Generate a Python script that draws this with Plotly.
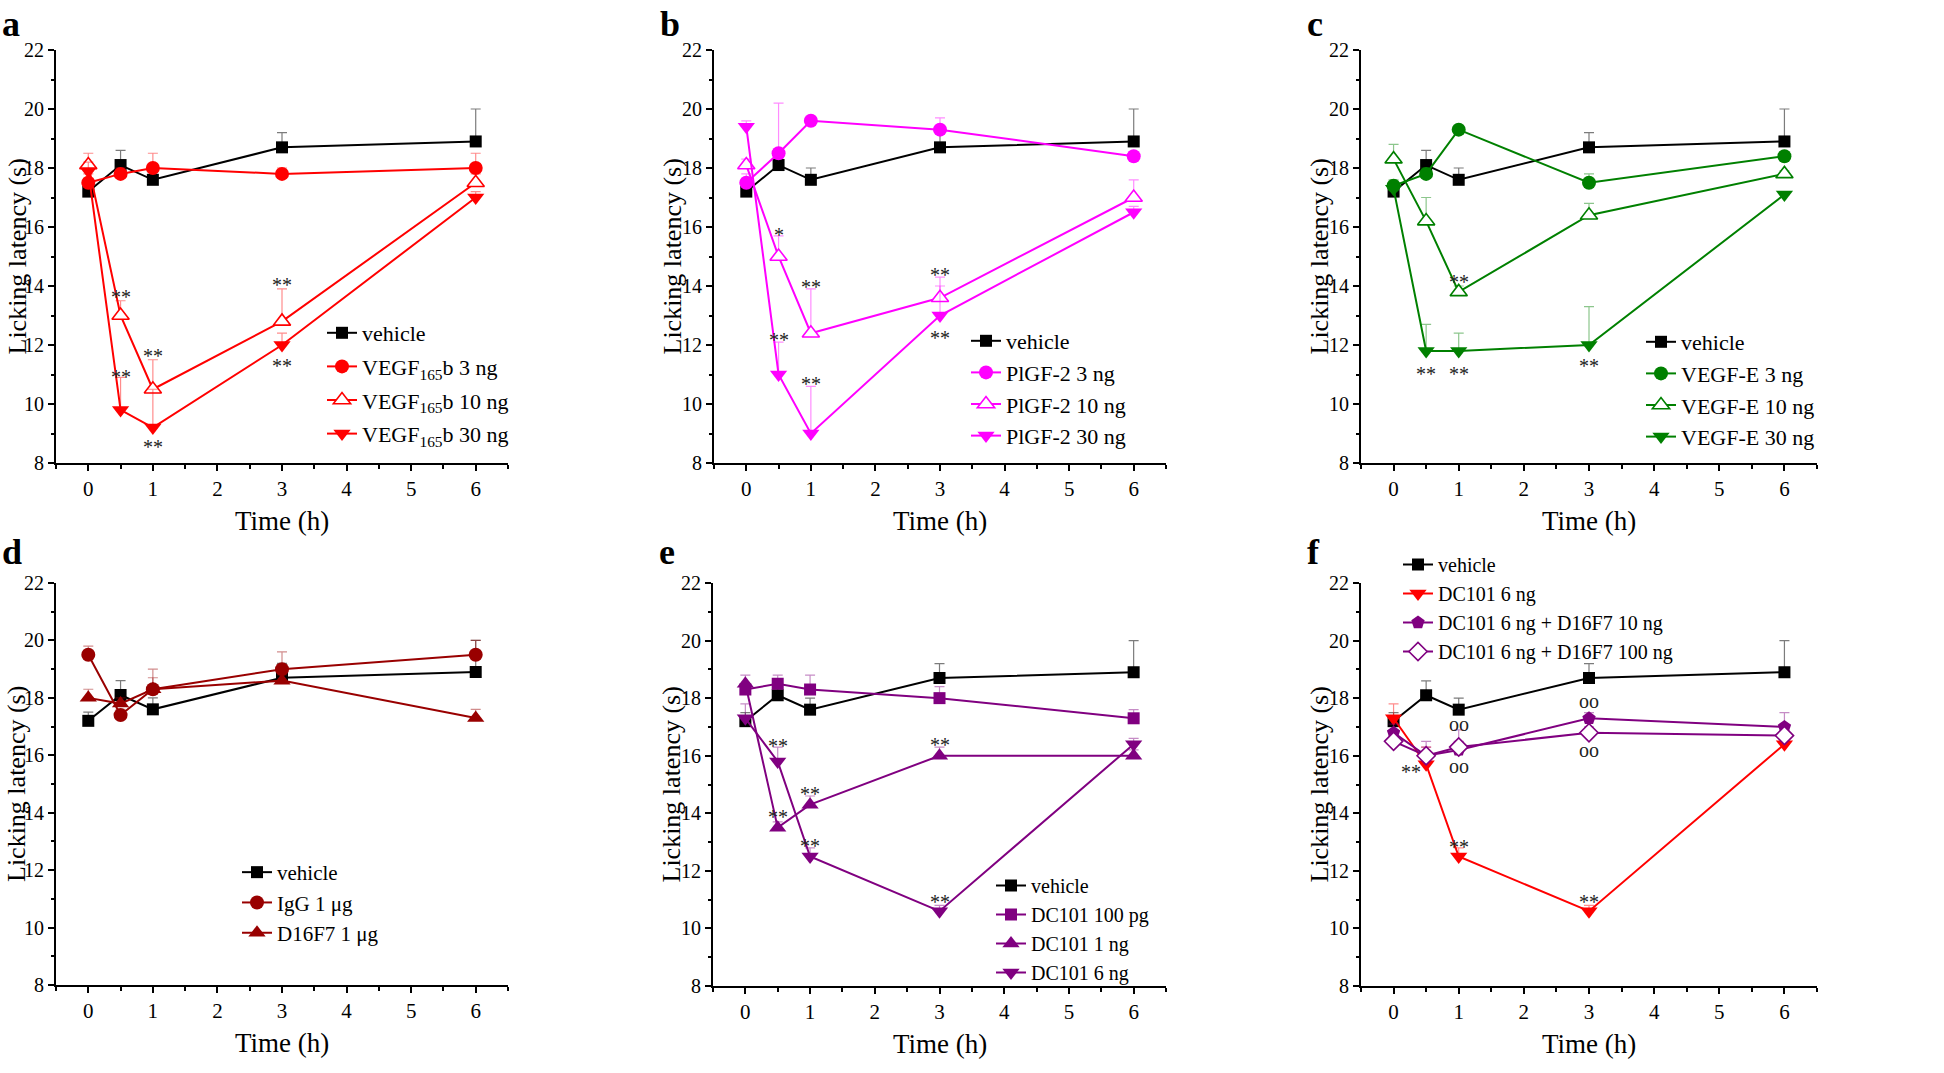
import plotly.graph_objects as go

# ---------------- data ----------------
time_h = [0, 0.5, 1, 3, 6]
x_tick_vals = [0, 1, 2, 3, 4, 5, 6]
y_tick_vals = [8, 10, 12, 14, 16, 18, 20, 22]
x_title = "Time (h)"
y_title = "Licking latency (s)"

vehicle = [17.2, 18.1, 17.6, 18.7, 18.9]
vehicle_err = [0.3, 0.5, 0.4, 0.5, 1.1]

# panel a
vegf165b_3 = [17.5, 17.8, 18.0, 17.8, 18.0]
vegf165b_3_err = [0.3, 0.2, 0.5, 0.2, 0.5]
vegf165b_10 = [18.1, 13.0, 10.5, 12.8, 17.5]
vegf165b_10_err = [0.4, 0.5, 1.0, 1.1, 0.3]
vegf165b_30 = [17.9, 9.8, 9.2, 12.0, 17.0]
vegf165b_30_err = [0.3, 1.1, 1.3, 0.4, 0.2]

# panel b
plgf_3 = [17.5, 18.5, 19.6, 19.3, 18.4]
plgf_3_err = [0.3, 1.7, 0.1, 0.4, 0.1]
plgf_10 = [18.1, 15.0, 12.4, 13.6, 17.0]
plgf_10_err = [0.2, 0.7, 1.5, 0.7, 0.6]
plgf_30 = [19.4, 11.0, 9.0, 13.0, 16.5]
plgf_30_err = [0.2, 1.1, 1.6, 1.0, 0.2]

# panel c
vegfe_3 = [17.4, 17.8, 19.3, 17.5, 18.4]
vegfe_3_err = [0.2, 0.2, 0.1, 0.3, 0.1]
vegfe_10 = [18.3, 16.2, 13.8, 16.4, 17.8]
vegfe_10_err = [0.5, 0.8, 0.2, 0.4, 0.1]
vegfe_30 = [17.3, 11.8, 11.8, 12.0, 17.1]
vegfe_30_err = [0.2, 0.9, 0.6, 1.3, 0.1]

# panel d
igg_1 = [19.5, 17.4, 18.3, 19.0, 19.5]
igg_1_err = [0.3, 0.2, 0.7, 0.6, 0.5]
d16f7_1 = [18.0, 17.8, 18.3, 18.6, 17.3]
d16f7_1_err = [0.3, 0.2, 0.4, 0.2, 0.3]

# panel e
dc101_100pg = [18.3, 18.5, 18.3, 18.0, 17.3]
dc101_100pg_err = [0.2, 0.3, 0.5, 0.4, 0.3]
dc101_1ng = [18.5, 13.5, 14.3, 16.0, 16.0]
dc101_1ng_err = [0.3, 0.2, 0.3, 0.3, 0.2]
dc101_6ng = [17.3, 15.8, 12.5, 10.6, 16.4]
dc101_6ng_err = [0.5, 0.5, 0.3, 0.2, 0.2]

# panel f
f_dc101_6ng = [17.3, 15.7, 12.5, 10.6, 16.4]
f_dc101_6ng_err = [0.5, 0.6, 0.3, 0.2, 0.2]
combo_10 = [16.8, 16.0, 16.2, 17.3, 17.0]
combo_10_err = [0.3, 0.3, 0.3, 0.2, 0.5]
combo_100 = [16.5, 16.0, 16.3, 16.8, 16.7]
combo_100_err = [0.2, 0.5, 0.6, 0.2, 0.1]

# significance marks: (x, y, text)
marks_a = [(0.5, 13.8, "**"), (0.5, 11.1, "**"), (1, 11.8, "**"), (1, 8.7, "**"), (3, 14.2, "**"), (3, 11.45, "**")]
marks_b = [(0.5, 15.9, "*"), (1, 14.15, "**"), (0.5, 12.35, "**"), (1, 10.85, "**"), (3, 14.55, "**"), (3, 12.4, "**")]
marks_c = [(1, 14.3, "**"), (0.5, 11.2, "**"), (1, 11.2, "**"), (3, 11.45, "**")]
marks_d = []
marks_e = [(0.5, 16.5, "**"), (0.5, 14.05, "**"), (1, 14.85, "**"), (1, 13.05, "**"), (3, 16.55, "**"), (3, 11.1, "**")]
marks_f = [(0.27, 15.6, "**"), (1, 17.1, "oo"), (1, 15.65, "oo"), (1, 13.0, "**"), (3, 17.9, "oo"), (3, 16.2, "oo"), (3, 11.1, "**")]

# ---------------- styling ----------------
SERIF = "Liberation Serif, Times New Roman, serif"
W, H = 1944, 1073
BLACK = "#000000"
RED = "#FF0000"
MAG = "#FF00FF"
GREEN = "#008000"
DRED = "#990000"
PURP = "#800080"


def rgba(hex_c, a):
    h = hex_c.lstrip("#")
    return "rgba(%d,%d,%d,%.2f)" % (int(h[0:2], 16), int(h[2:4], 16), int(h[4:6], 16), a)


def s(name, vals, err, color, symbol, filled=True, size=13):
    return dict(name=name, vals=vals, err=err, color=color, symbol=symbol, filled=filled, size=size)


veh = lambda: s("vehicle", vehicle, vehicle_err, BLACK, "square", True, 12)

panels = [
    dict(letter="a", box=(56, 508, 50, 463), ytx=17, legend=(322, 312), lfont=22, gap=2, marks=marks_a, series=[
        veh(),
        s("VEGF<sub>165</sub>b 3 ng", vegf165b_3, vegf165b_3_err, RED, "circle", True, 14),
        s("VEGF<sub>165</sub>b 10 ng", vegf165b_10, vegf165b_10_err, RED, "triangle-up", False, 15),
        s("VEGF<sub>165</sub>b 30 ng", vegf165b_30, vegf165b_30_err, RED, "triangle-down", True, 15),
    ]),
    dict(letter="b", box=(714, 1166, 50, 463), ytx=672, legend=(966, 320), lfont=22, gap=0, marks=marks_b, series=[
        veh(),
        s("PlGF-2 3 ng", plgf_3, plgf_3_err, MAG, "circle", True, 14),
        s("PlGF-2 10 ng", plgf_10, plgf_10_err, MAG, "triangle-up", False, 15),
        s("PlGF-2 30 ng", plgf_30, plgf_30_err, MAG, "triangle-down", True, 15),
    ]),
    dict(letter="c", box=(1361, 1817, 50, 463), ytx=1319, legend=(1641, 321), lfont=22, gap=0, marks=marks_c, series=[
        veh(),
        s("VEGF-E 3 ng", vegfe_3, vegfe_3_err, GREEN, "circle", True, 14),
        s("VEGF-E 10 ng", vegfe_10, vegfe_10_err, GREEN, "triangle-up", False, 15),
        s("VEGF-E 30 ng", vegfe_30, vegfe_30_err, GREEN, "triangle-down", True, 15),
    ]),
    dict(letter="d", box=(56, 508, 583, 985), ytx=17, legend=(237, 852), lfont=21, gap=0, marks=marks_d, series=[
        veh(),
        s("IgG 1 μg", igg_1, igg_1_err, DRED, "circle", True, 14),
        s("D16F7 1 μg", d16f7_1, d16f7_1_err, DRED, "triangle-up", True, 15),
    ]),
    dict(letter="e", box=(713, 1166, 583, 986), ytx=671, legend=(991, 866), lfont=20, gap=0, marks=marks_e, series=[
        veh(),
        s("DC101 100 pg", dc101_100pg, dc101_100pg_err, PURP, "square", True, 12),
        s("DC101 1 ng", dc101_1ng, dc101_1ng_err, PURP, "triangle-up", True, 15),
        s("DC101 6 ng", dc101_6ng, dc101_6ng_err, PURP, "triangle-down", True, 15),
    ]),
    dict(letter="f", box=(1361, 1817, 583, 986), ytx=1319, legend=(1398, 545), lfont=20, gap=0, marks=marks_f, series=[
        veh(),
        s("DC101 6 ng", f_dc101_6ng, f_dc101_6ng_err, RED, "triangle-down", True, 15),
        s("DC101 6 ng + D16F7 10 ng", combo_10, combo_10_err, PURP, "pentagon", True, 14),
        s("DC101 6 ng + D16F7 100 ng", combo_100, combo_100_err, PURP, "diamond", False, 14),
    ]),
]

fig = go.Figure()
layout = dict(
    width=W, height=H, autosize=False,
    margin=dict(l=0, r=0, t=0, b=0),
    paper_bgcolor="white", plot_bgcolor="white",
    font=dict(family=SERIF, color="black"),
    annotations=[],
)

for i, p in enumerate(panels, start=1):
    xa = "xaxis" if i == 1 else "xaxis%d" % i
    ya = "yaxis" if i == 1 else "yaxis%d" % i
    xr = "x" if i == 1 else "x%d" % i
    yr = "y" if i == 1 else "y%d" % i
    lg = "legend" if i == 1 else "legend%d" % i
    l, r, t, b = p["box"]

    layout[xa] = dict(
        domain=[l / W, r / W], anchor=yr, range=[-0.5, 6.5],
        tickmode="array", tickvals=x_tick_vals,
        ticks="outside", ticklen=6, tickwidth=2, tickcolor="black",
        minor=dict(ticks="outside", ticklen=3.5, tickwidth=1.5, tickcolor="black", dtick=0.5, tick0=0),
        showline=True, linecolor="black", linewidth=2, showgrid=False, zeroline=False,
        tickfont=dict(family=SERIF, size=21, color="black"),
        automargin=False, fixedrange=True,
    )
    layout[ya] = dict(
        domain=[1 - b / H, 1 - t / H], anchor=xr, range=[8, 22],
        tickmode="array", tickvals=y_tick_vals,
        ticks="outside", ticklen=6, tickwidth=2, tickcolor="black",
        minor=dict(ticks="outside", ticklen=3.5, tickwidth=1.5, tickcolor="black", dtick=1, tick0=8),
        showline=True, linecolor="black", linewidth=2, showgrid=False, zeroline=False,
        tickfont=dict(family=SERIF, size=20, color="black"),
        automargin=False, fixedrange=True,
    )
    lx, ly = p["legend"]
    layout[lg] = dict(
        x=lx / W, y=1 - ly / H, xanchor="left", yanchor="top",
        bgcolor="rgba(0,0,0,0)", borderwidth=0,
        font=dict(family=SERIF, size=p["lfont"], color="black"),
        traceorder="grouped", tracegroupgap=p["gap"], itemwidth=30,
    )

    for k, se in enumerate(p["series"]):
        c = se["color"]
        err_c = "rgba(110,110,110,0.9)" if c == BLACK else rgba(c, 0.45)
        fig.add_trace(go.Scatter(
            x=time_h, y=se["vals"], name=se["name"], mode="lines+markers",
            xaxis=xr, yaxis=yr, legend=lg, legendgroup="%s_%d" % (p["letter"], k),
            line=dict(color=c, width=2),
            marker=dict(symbol=se["symbol"], size=se["size"],
                        color=c if se["filled"] else "white",
                        line=dict(color=c, width=1.6 if not se["filled"] else 0)),
            error_y=dict(type="data", symmetric=False, array=se["err"], arrayminus=[0] * len(se["err"]),
                         color=err_c, thickness=1.2, width=5),
            hoverinfo="x+y+name",
        ))

    for (mx, my, txt) in p["marks"]:
        layout["annotations"].append(dict(
            x=mx, y=my, xref=xr, yref=yr, text=txt, showarrow=False,
            font=dict(family=SERIF, size=20, color="#222222"),
            yshift=-5 if "*" in txt else 0,
        ))

    # axis titles
    layout["annotations"].append(dict(
        x=p["ytx"] / W, y=1 - (t + b) / 2 / H, xref="paper", yref="paper",
        xanchor="center", yanchor="middle", textangle=-90,
        text=y_title, showarrow=False, font=dict(family=SERIF, size=26, color="black"),
    ))
    layout["annotations"].append(dict(
        x=(l + r) / 2 / W, y=1 - (b + 58) / H, xref="paper", yref="paper",
        xanchor="center", yanchor="middle",
        text=x_title, showarrow=False, font=dict(family=SERIF, size=27, color="black"),
    ))

    # panel letter
    layout["annotations"].append(dict(
        x=(l - 56) / W, y=1 - (t - 48) / H if t < 100 else 1 - (t - 53) / H,
        xref="paper", yref="paper", xanchor="left", yanchor="top",
        text="<b>%s</b>" % p["letter"], showarrow=False,
        font=dict(family=SERIF, size=36, color="black"),
    ))

fig.update_layout(**layout)
fig.write_html("out.html", config={"displayModeBar": False},
               post_script="document.body.style.margin='0';")
